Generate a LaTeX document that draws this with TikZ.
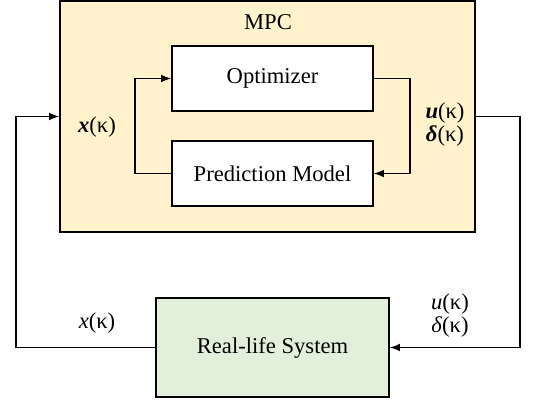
\documentclass[tikz,border=0pt]{standalone}
\usepackage{fontspec}
\setmainfont{Liberation Serif}
\usepackage{xcolor}
\usetikzlibrary{arrows,positioning,shapes,calc}
\definecolor{mpcfill}{HTML}{FFF2CC}
\definecolor{sysfill}{HTML}{E2EFDA}

\begin{document}
\begin{tikzpicture}[x=0.5pt,y=-0.5pt,font=\fontsize{11.3}{13.5}\selectfont,
  outer node/.style={draw,line width=0.8pt,inner sep=0pt},
  block node/.style={draw,fill=white,line width=0.8pt,minimum width=100.5pt,minimum height=32.5pt,inner sep=0pt},
  sig line/.style={line width=0.75pt,-latex}]
\useasboundingbox (0,0) rectangle (540,400);
\node[outer node,fill=mpcfill,minimum width=207.5pt,minimum height=115.5pt] (mpc) at (267.5,116.5){};
\node[outer node,fill=sysfill,minimum width=116.5pt,minimum height=49.5pt] (sys) at (272.5,347.5){Real-life System};
\node[block node] (opt) at (272.5,78.5){Optimizer};
\node[block node] (pred) at (272.5,173.5){Prediction Model};
\node (mpclabel) at (268,22){MPC};
\node (xin) at (97,127){\textbf{\textit{x}}(κ)};
\node[align=center] (uout) at (445,125){\textbf{\textit{u}}(κ)\\[-2pt]\textbf{\textit{δ}}(κ)};
\node (xsys) at (97,323){\textit{x}(κ)};
\node[align=center] (usys) at (450,316){\textit{u}(κ)\\[-2pt]\textit{δ}(κ)};
% inner loop
\draw[sig line] (pred.west) -- ++(-36,0) |- (opt.west);
\draw[sig line] (opt.east) -- ++(36,0) |- (pred.east);
% outer loop
\coordinate (lc) at (16,116.5);
\coordinate (rc) at (520,116.5);
\draw[sig line] (sys.west) -| (lc) -- (mpc.west);
\draw[sig line] (mpc.east) -- (rc) |- (sys.east);
\end{tikzpicture}
\end{document}
